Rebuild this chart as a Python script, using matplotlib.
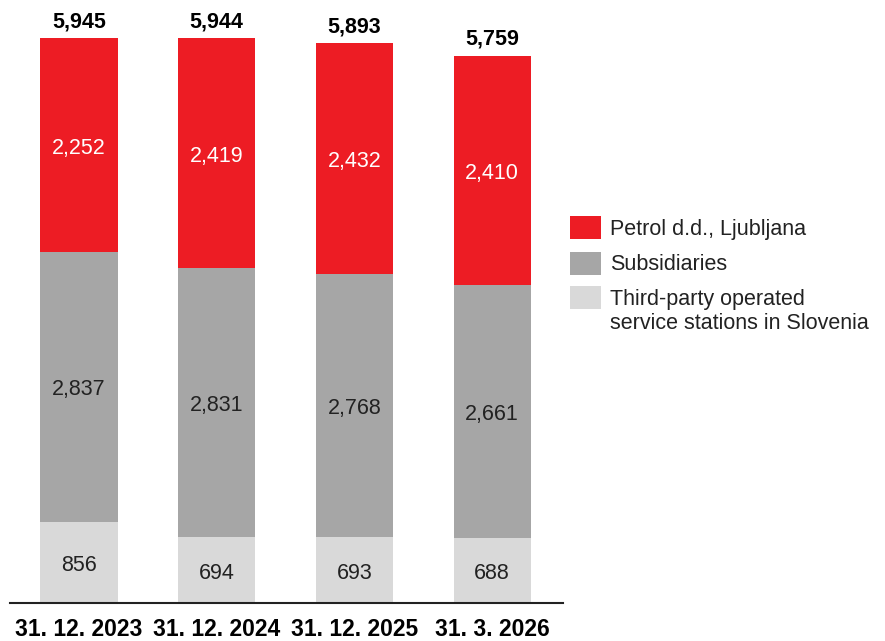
import numpy as np
import matplotlib.pyplot as plt
from matplotlib.patches import Rectangle

plt.rcParams['font.family'] = ['Liberation Sans', 'DejaVu Sans']

dates = ['31. 12. 2023', '31. 12. 2024', '31. 12. 2025', '31. 3. 2026']
third_party = [856, 694, 693, 688]
subsidiaries = [2837, 2831, 2768, 2661]
petrol = [2252, 2419, 2432, 2410]
totals = [5945, 5944, 5893, 5759]

series_names = ['Petrol d.d., Ljubljana', 'Subsidiaries',
                'Third-party operated\nservice stations in Slovenia']
red = '#ED1C24'
grey = '#A6A6A6'
light = '#D9D9D9'

fig = plt.figure(figsize=(8.85, 6.41), dpi=100)
W, H = 885, 641
ax = fig.add_axes([10 / W, 1 - 603 / H, 553 / W, 565 / H])

x = np.arange(len(dates))
bw = 0.56
b1 = np.array(third_party)
b2 = b1 + np.array(subsidiaries)

ax.bar(x, third_party, bw, color=light)
ax.bar(x, subsidiaries, bw, bottom=b1, color=grey)
ax.bar(x, petrol, bw, bottom=b2, color=red)


def seg_label(xp, yp, val, col):
    ax.annotate(f'{val:,}', (xp, yp), xytext=(0, -3), textcoords='offset pixels',
                ha='center', va='center', fontsize=15.5, color=col)


for i in range(len(x)):
    seg_label(x[i], third_party[i] / 2, third_party[i], '#222222')
    seg_label(x[i], b1[i] + subsidiaries[i] / 2, subsidiaries[i], '#222222')
    seg_label(x[i], b2[i] + petrol[i] / 2, petrol[i], 'white')
    ax.text(x[i], totals[i] + 60, f'{totals[i]:,}', ha='center', va='bottom',
            fontsize=15.5, fontweight='bold', color='black', clip_on=False)

ax.set_xlim(-0.501, 3.515)
ax.set_ylim(0, 5945)
ax.set_xticks(x)
ax.set_xticklabels(dates, fontsize=16.5, fontweight='bold')
ax.tick_params(axis='x', length=0, pad=11)
ax.set_yticks([])
for s in ['top', 'right', 'left']:
    ax.spines[s].set_visible(False)
ax.spines['bottom'].set_linewidth(1.5)
ax.spines['bottom'].set_color('#222222')

# legend drawn by hand: swatch + label, first text line level with the swatch
leg_colors = [red, grey, light]
leg_y = [228, 263, 298]
for c, yc, name in zip(leg_colors, leg_y, series_names):
    fig.add_artist(Rectangle((570 / W, 1 - (yc + 11.5) / H), 31 / W, 23 / H,
                             facecolor=c, edgecolor='none', transform=fig.transFigure))
    fig.text(610 / W, 1 - (yc - 9) / H, name, ha='left', va='top', fontsize=15.5,
             color='#222222', linespacing=1.2)

fig.savefig('out.png', dpi=100)
